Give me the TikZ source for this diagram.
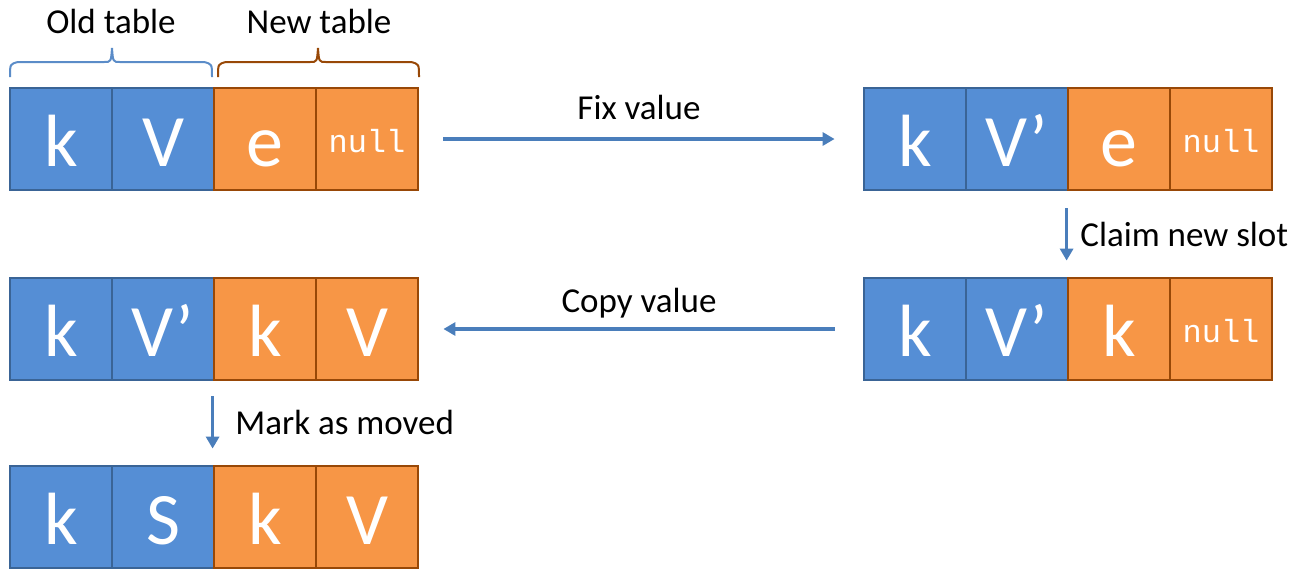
\documentclass[tikz,border=0pt]{standalone}
\usepackage{fontspec}
\setmainfont{Carlito}
\newfontfamily\monof{Liberation Mono}
\usetikzlibrary{arrows.meta}
\definecolor{bfill}{HTML}{558ED5}
\definecolor{bline}{HTML}{3A6496}
\definecolor{ofill}{HTML}{F79646}
\definecolor{oline}{HTML}{984807}
\definecolor{arr}{HTML}{4A7EBB}
\definecolor{bbrace}{HTML}{5B8CC8}
\tikzset{
  cell/.style={minimum width=102pt,minimum height=102pt,inner sep=0pt,line width=2.8pt,
    text=white,font=\fontsize{74}{74}\selectfont,text height=54pt,text depth=0pt},
  bcell/.style={cell,fill=bfill,draw=bline},
  ocell/.style={cell,fill=ofill,draw=oline},
  nullcell/.style={font=\monof\fontsize{32}{32}\selectfont,text height=26pt},
  flow/.style={draw=arr,line width=3.5pt,-{Triangle[length=12pt,width=13pt]}},
  lbl/.style={font=\fontsize{35}{35}\selectfont,inner sep=0pt},
}
\begin{document}
\begin{tikzpicture}[x=1pt,y=-1pt]
\useasboundingbox (0,0) rectangle (1305,582);
% row 1 left
\node[bcell] (a1) at (61,139) {k};
\node[bcell] (a2) at (163,139) {V};
\node[ocell] (a3) at (265,139) {e};
\node[ocell,nullcell] (a4) at (367,139) {null};
% row 1 right
\node[bcell] (b1) at (915,139) {k};
\node[bcell] (b2) at (1017,139) {V’};
\node[ocell] (b3) at (1119,139) {e};
\node[ocell,nullcell] (b4) at (1221,139) {null};
% row 2 right
\node[bcell] (c1) at (915,329) {k};
\node[bcell] (c2) at (1017,329) {V’};
\node[ocell] (c3) at (1119,329) {k};
\node[ocell,nullcell] (c4) at (1221,329) {null};
% row 2 left
\node[bcell] (d1) at (61,329) {k};
\node[bcell] (d2) at (163,329) {V’};
\node[ocell] (d3) at (265,329) {k};
\node[ocell] (d4) at (367,329) {V};
% row 3 left
\node[bcell] (e1) at (61,517) {k};
\node[bcell] (e2) at (163,517) {S};
\node[ocell] (e3) at (265,517) {k};
\node[ocell] (e4) at (367,517) {V};
% braces
\draw[bbrace,line width=2pt] (10,77) .. controls (10,64) .. (18,62) -- (104,62) .. controls (111,62) .. (112,48) .. controls (113,62) .. (120,62) -- (204,62) .. controls (212,64) .. (212,77);
\draw[oline,line width=2pt] (218,77) .. controls (218,64) .. (226,62) -- (310,62) .. controls (317,62) .. (318,48) .. controls (319,62) .. (326,62) -- (411,62) .. controls (419,64) .. (419,77);
\node[lbl,anchor=base] (t1) at (111,33) {Old table};
\node[lbl,anchor=base] (t2) at (319,33) {New table};
% arrows
\draw[flow] ([xshift=24pt]a4.east) -- ([xshift=-28pt]b1.west) node[lbl,midway,anchor=base,yshift=20pt] (l1) {Fix value};
\draw[flow] ([yshift=-17pt]b3.south west) -- ([yshift=16pt]c3.north west) node[lbl,midway,anchor=west,xshift=12pt] (l2) {Claim new slot};
\draw[flow] ([xshift=-28pt]c1.west) -- ([xshift=24pt]d4.east) node[lbl,midway,anchor=base,yshift=17pt] (l3) {Copy value};
\draw[flow] ([yshift=-15pt]d3.south west) -- ([yshift=16pt]e3.north west) node[lbl,midway,anchor=west,xshift=21pt] (l4) {Mark as moved};
\end{tikzpicture}
\end{document}
